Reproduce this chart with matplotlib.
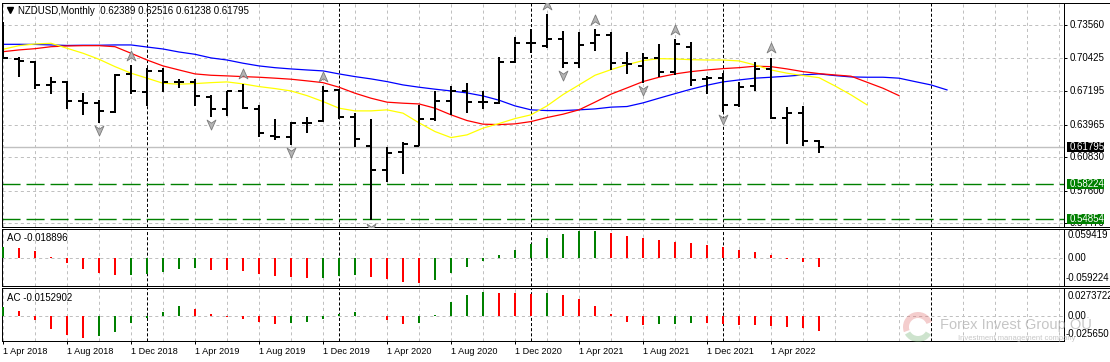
import matplotlib
matplotlib.use("Agg")
import matplotlib.pyplot as plt
from matplotlib.collections import LineCollection
from matplotlib.transforms import blended_transform_factory
from matplotlib.patches import Rectangle, Wedge
from matplotlib.path import Path

plt.rcParams['font.family'] = ['Liberation Sans', 'DejaVu Sans']
plt.rcParams['lines.scale_dashes'] = False

# ---------------- data ----------------
title = "NZDUSD,Monthly  0.62389 0.62516 0.61238 0.61795"
date_labels = ["1 Apr 2018", "1 Aug 2018", "1 Dec 2018", "1 Apr 2019", "1 Aug 2019",
               "1 Dec 2019", "1 Apr 2020", "1 Aug 2020", "1 Dec 2020", "1 Apr 2021",
               "1 Aug 2021", "1 Dec 2021", "1 Apr 2022"]
date_label_bars = [0, 4, 8, 12, 16, 20, 24, 28, 32, 36, 40, 44, 48]
year_separator_bars = [9, 21, 33, 45, 58]

opens = [0.7235, 0.7026, 0.7003, 0.6779, 0.6811, 0.6628, 0.6609, 0.6522, 0.6882, 0.6715,
         0.6914, 0.6811, 0.6811, 0.6667, 0.6545, 0.6721, 0.6545, 0.6289, 0.6276, 0.6411,
         0.6436, 0.6731, 0.6468, 0.6195, 0.5955, 0.6132, 0.6193, 0.6452, 0.6628, 0.6724,
         0.6619, 0.6603, 0.7003, 0.7180, 0.7157, 0.7221, 0.6988, 0.7180, 0.7260, 0.6988,
         0.6962, 0.7042, 0.6901, 0.7147, 0.6834, 0.6844, 0.6587, 0.6769, 0.6930, 0.6465,
         0.6507, 0.62389]
highs = [0.7388, 0.7045, 0.7012, 0.6853, 0.6818, 0.6699, 0.6635, 0.6885, 0.6971, 0.6940,
         0.6940, 0.6834, 0.6834, 0.6683, 0.6724, 0.6789, 0.6587, 0.6452, 0.6426, 0.6468,
         0.6769, 0.6738, 0.6507, 0.6452, 0.6186, 0.6234, 0.6587, 0.6724, 0.6769, 0.6795,
         0.6724, 0.7045, 0.7238, 0.7315, 0.7459, 0.7301, 0.7286, 0.7315, 0.7286, 0.7099,
         0.7084, 0.7170, 0.7218, 0.7195, 0.6866, 0.6892, 0.6811, 0.7003, 0.7042, 0.6565,
         0.6577, 0.62516]
lows = [0.7026, 0.6853, 0.6738, 0.6690, 0.6545, 0.6494, 0.6417, 0.6510, 0.6690, 0.6577,
        0.6715, 0.6747, 0.6577, 0.6474, 0.6484, 0.6545, 0.6282, 0.6250, 0.6202, 0.6320,
        0.6426, 0.6452, 0.6186, 0.5474, 0.5840, 0.5920, 0.6190, 0.6436, 0.6491, 0.6507,
        0.6545, 0.6596, 0.6993, 0.7090, 0.7132, 0.6940, 0.6940, 0.7109, 0.6923, 0.6885,
        0.6801, 0.6859, 0.6875, 0.6769, 0.6693, 0.6522, 0.6565, 0.6724, 0.6452, 0.6212,
        0.6195, 0.61238]
closes = [0.7036, 0.7010, 0.6779, 0.6811, 0.6628, 0.6609, 0.6529, 0.6878, 0.6724, 0.6914,
          0.6811, 0.6811, 0.6676, 0.6545, 0.6716, 0.6555, 0.6320, 0.6282, 0.6411, 0.6417,
          0.6724, 0.6468, 0.6257, 0.5955, 0.6122, 0.6212, 0.6449, 0.6628, 0.6721, 0.6619,
          0.6619, 0.7003, 0.7180, 0.7180, 0.7221, 0.6988, 0.7164, 0.7260, 0.6993, 0.6981,
          0.7036, 0.6901, 0.7170, 0.6827, 0.6844, 0.6587, 0.6763, 0.6930, 0.6459, 0.6513,
          0.6241, 0.61795]

# Alligator lines (jaw shifted 8 bars, teeth 5, lips 3)
jaw_blue = [0.7170, 0.7170, 0.7169, 0.7164, 0.7159, 0.7161, 0.7161, 0.7164, 0.7164, 0.7144,
            0.7125, 0.7096, 0.7074, 0.7039, 0.7019, 0.6988, 0.6962, 0.6945, 0.6933, 0.6923,
            0.6914, 0.6885, 0.6859, 0.6837, 0.6811, 0.6779, 0.6757, 0.6738, 0.6721, 0.6702,
            0.6673, 0.6632, 0.6577, 0.6539, 0.6532, 0.6532, 0.6539, 0.6548, 0.6565, 0.6571,
            0.6606, 0.6651, 0.6695, 0.6738, 0.6776, 0.6808, 0.6827, 0.6844, 0.6853, 0.6863,
            0.6875, 0.6885, 0.6869, 0.6856, 0.6853, 0.6853, 0.6844, 0.6811, 0.6779, 0.6731]
teeth_red = [0.7099, 0.7116, 0.7128, 0.7147, 0.7154, 0.7157, 0.7157, 0.7147, 0.7084, 0.7019,
             0.6962, 0.6923, 0.6885, 0.6872, 0.6866, 0.6859, 0.6853, 0.6844, 0.6834, 0.6818,
             0.6801, 0.6757, 0.6699, 0.6651, 0.6613, 0.6603, 0.6596, 0.6555, 0.6491, 0.6436,
             0.6401, 0.6397, 0.6404, 0.6426, 0.6465, 0.6497, 0.6539, 0.6613, 0.6690, 0.6750,
             0.6811, 0.6853, 0.6885, 0.6907, 0.6923, 0.6936, 0.6945, 0.6959, 0.6955, 0.6933,
             0.6907, 0.6888, 0.6875, 0.6863, 0.6805, 0.6747, 0.6676]
lips_yellow = [0.7122, 0.7157, 0.7173, 0.7180, 0.7132, 0.7084, 0.7026, 0.6955, 0.6892, 0.6844,
               0.6795, 0.6786, 0.6792, 0.6801, 0.6808, 0.6789, 0.6763, 0.6744, 0.6721, 0.6676,
               0.6619, 0.6555, 0.6529, 0.6529, 0.6539, 0.6507, 0.6414, 0.6330, 0.6272, 0.6298,
               0.6363, 0.6407, 0.6455, 0.6491, 0.6577, 0.6686, 0.6779, 0.6872, 0.6926, 0.6974,
               0.7013, 0.7032, 0.7029, 0.7022, 0.7019, 0.7019, 0.7010, 0.6971, 0.6923, 0.6892,
               0.6869, 0.6849, 0.6769, 0.6683, 0.6587]

fractal_up_bars = [8, 15, 20, 34, 37, 42, 48]
fractal_down_bars = [6, 13, 18, 23, 35, 40, 45]

price_grid = [0.73560, 0.70425, 0.67195, 0.63965, 0.60830, 0.57600, 0.54470]
last_price = 0.61795
level_lines = [0.58224, 0.54854]

ao_values = [0.0213, 0.0206, 0.0137, 0.0014, -0.0110, -0.0233, -0.0316, -0.0364, -0.0357, -0.0336,
             -0.0295, -0.0233, -0.0213, -0.0254, -0.0261, -0.0275, -0.0336, -0.0378, -0.0405, -0.0419,
             -0.0412, -0.0378, -0.0364, -0.0405, -0.0446, -0.0501, -0.0529, -0.0460, -0.0316, -0.0192,
             -0.0076, 0.0048, 0.0158, 0.0275, 0.0398, 0.0481, 0.0549, 0.0553, 0.0508, 0.0439,
             0.0398, 0.0357, 0.0323, 0.0295, 0.0254, 0.0213, 0.0151, 0.0110, 0.0048, -0.0021,
             -0.0089, -0.0185]
ac_values = [0.0084, 0.0050, -0.0050, -0.0137, -0.0201, -0.0228, -0.0208, -0.0161, -0.0077, -0.0027,
             0.0040, 0.0094, 0.0070, 0.0020, -0.0020, -0.0040, -0.0067, -0.0090, -0.0080, -0.0070,
             -0.0040, 0.0020, 0.0040, -0.0010, -0.0050, -0.0090, -0.0080, 0.0010, 0.0134, 0.0211,
             0.0241, 0.0231, 0.0224, 0.0221, 0.0231, 0.0211, 0.0171, 0.0100, 0.0020, -0.0067,
             -0.0097, -0.0087, -0.0084, -0.0077, -0.0080, -0.0082, -0.0097, -0.0100, -0.0107, -0.0117,
             -0.0127, -0.0155]
ao_range = (-0.059224, 0.059419)
ac_range = (-0.025650, 0.0273722)
ao_label = "AO -0.018896"
ac_label = "AC -0.0152902"

# ---------------- layout ----------------
W, H = 1110, 362
fig = plt.figure(figsize=(W / 100, H / 100), dpi=100)
fig.patch.set_facecolor('white')


def rect(x0, y0, x1, y1):
    return [x0 / W, 1 - y1 / H, (x1 - x0) / W, (y1 - y0) / H]


ax = fig.add_axes(rect(2, 2.7, 1064, 226.7))
ax_ao = fig.add_axes(rect(2, 228.7, 1064, 286.3))
ax_ac = fig.add_axes(rect(2, 288.3, 1064, 341))

XMIN, XMAX = -1 / 16, 1061 / 16
PX = 0.72  # one pixel in points
GRID = '#c0c0c0'
GREEN = '#008000'

for a in (ax, ax_ao, ax_ac):
    a.set_xlim(XMIN, XMAX)
    a.set_facecolor('white')
    for s in a.spines.values():
        s.set_linewidth(PX)
        s.set_color('black')
    a.tick_params(left=False, labelleft=False, bottom=False, labelbottom=False,
                  right=False, labelright=False)
    for k in range(0, 67, 2):
        if k in year_separator_bars:
            continue
        a.axvline(k, color=GRID, lw=PX, dashes=(2.2, 2.2), zorder=0)
    for k in year_separator_bars:
        a.axvline(k, color='black', lw=PX, dashes=(2.2, 1.5), zorder=0.5)

# ---------------- main pane ----------------
ax.set_ylim(0.54138, 0.75707)
for p in price_grid:
    ax.axhline(p, color=GRID, lw=PX, dashes=(2.2, 2.2), zorder=0)
ax.yaxis.tick_right()
ax.set_yticks(price_grid)
ax.tick_params(axis='y', right=True, labelright=False, length=2.5, width=PX, direction='out')

ax.axhline(last_price, color=GRID, lw=1.0, zorder=1)
for p in level_lines:
    ax.axhline(p, color=GREEN, lw=1.0, dashes=(13, 4.3), zorder=1.5)

ax.plot(range(len(jaw_blue)), jaw_blue, color='#0000ff', lw=0.9, zorder=2)
ax.plot(range(len(teeth_red)), teeth_red, color='#ff0000', lw=0.9, zorder=2.1)
ax.plot(range(len(lips_yellow)), lips_yellow, color='#ffff00', lw=0.9, zorder=2.2)

tick = 0.3
segs = []
for k in range(len(opens)):
    segs.append([(k, lows[k]), (k, highs[k])])
    segs.append([(k - tick, opens[k]), (k, opens[k])])
    segs.append([(k, closes[k]), (k + tick, closes[k])])
ax.add_collection(LineCollection(segs, colors='black', linewidths=2 * PX,
                                 capstyle='butt', zorder=3))

up_marker = Path([(0, 1), (0.8, -0.8), (0, -0.25), (-0.8, -0.8), (0, 1)],
                 [Path.MOVETO, Path.LINETO, Path.LINETO, Path.LINETO, Path.CLOSEPOLY])
down_marker = Path([(0, -1), (0.8, 0.8), (0, 0.25), (-0.8, 0.8), (0, -1)],
                   [Path.MOVETO, Path.LINETO, Path.LINETO, Path.LINETO, Path.CLOSEPOLY])
ax.plot(fractal_up_bars, [highs[k] + 0.0091 for k in fractal_up_bars], ls='none',
        marker=up_marker, ms=8, mfc='#b4b4b4', mec='#7a7a7a', mew=0.6, zorder=4)
ax.plot(fractal_down_bars, [lows[k] - 0.0070 for k in fractal_down_bars], ls='none',
        marker=down_marker, ms=8, mfc='#b4b4b4', mec='#7a7a7a', mew=0.6, zorder=4)

tr = blended_transform_factory(ax.transAxes, ax.transData)
xs_lab = 1 + 6 / 1062
for p in price_grid:
    ax.text(xs_lab, p, f"{p:.5f}", transform=tr, va='center', ha='left',
            fontsize=7, color='black', clip_on=False, zorder=4)
box_h = 9.6 / 1038.5
for p, c in [(last_price, 'black')] + [(lv, GREEN) for lv in level_lines]:
    ax.add_patch(Rectangle((1 + 2.7 / 1062, p - box_h / 2), 37 / 1062, box_h, transform=tr,
                           facecolor=c, edgecolor='none', clip_on=False, zorder=5))
    ax.text(xs_lab, p, f"{p:.5f}", transform=tr, va='center', ha='left',
            fontsize=7, color='white', clip_on=False, zorder=6)

# ---------------- AO / AC panes ----------------
def histogram(a, vals, rng):
    a.set_ylim(*rng)
    a.axhline(0, color=GRID, lw=PX, dashes=(2.2, 2.2), zorder=0)
    cols = []
    for i, v in enumerate(vals):
        cols.append(GREEN if i == 0 or v > vals[i - 1] else '#ff0000')
    a.vlines(range(len(vals)), 0, vals, colors=cols, lw=2 * PX, zorder=3)


histogram(ax_ao, ao_values, ao_range)
histogram(ax_ac, ac_values, ac_range)

ax_ac.set_xticks(date_label_bars)
ax_ac.set_xticklabels(date_labels, ha='left', fontsize=6.6)
ax_ac.tick_params(axis='x', bottom=True, labelbottom=True, length=2.5, width=PX,
                  direction='out', pad=1.8)

# ---------------- overlay (text, frame extensions, watermark) ----------------
ov = fig.add_axes([0, 0, 1, 1])
ov.set_xlim(0, W)
ov.set_ylim(H, 0)
ov.axis('off')
ov.patch.set_alpha(0)

ov.hlines([2.7, 226.7, 228.7, 286.3, 288.3], 1064, W, color='black', lw=PX)
ov.plot([10], [10.3], marker='v', ms=4.5, color='black')
ov.text(18, 10.7, title, fontsize=7, va='center', ha='left', color='black')
ov.text(7, 237.7, ao_label, fontsize=7, va='center', ha='left', color='black')
ov.text(7, 297.7, ac_label, fontsize=7, va='center', ha='left', color='black')

for y, s in [(235.0, f"{ao_range[1]:.6f}"), (258.3, "0.00"), (278.3, f"{ao_range[0]:.6f}"),
             (295.7, f"{ac_range[1]:.7f}"), (316.0, "0.00"), (334.3, f"{ac_range[0]:.6f}")]:
    ov.text(1068 if not s.startswith('-') else 1066, y, s, fontsize=7, va='center', ha='left')

# watermark
ov.add_patch(Wedge((918, 327), 15, 160, 340, width=6, facecolor='#e07070', alpha=0.35,
                   edgecolor='none'))
ov.add_patch(Wedge((918, 327), 15, 30, 150, width=6, facecolor='#70b070', alpha=0.35,
                   edgecolor='none'))
ov.text(940, 325, "Forex Invest Group OÜ", fontsize=10.5, va='center', ha='left',
        color='#a0a0a0', alpha=0.6)
ov.text(958, 338, "Investment management company", fontsize=5.5, va='center', ha='left',
        color='#b0b0b0', alpha=0.7)

fig.savefig("out.png", dpi=100, facecolor='white')
